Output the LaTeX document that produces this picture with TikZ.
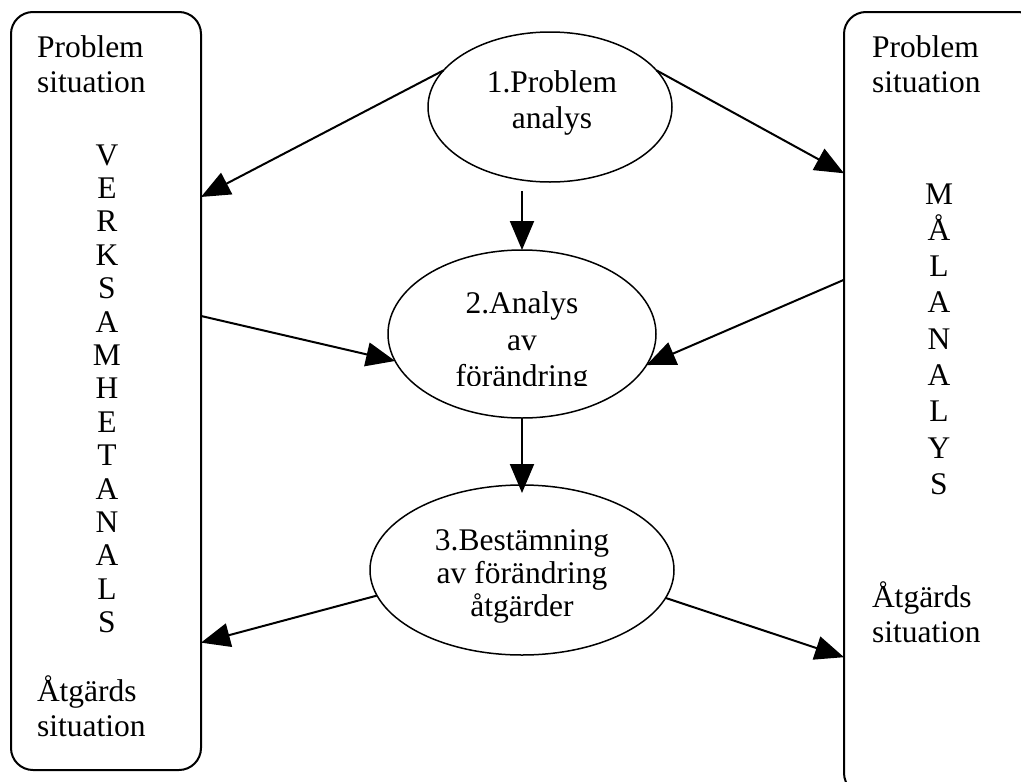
\documentclass[tikz,border=0pt]{standalone}
\usepackage{fontspec}
\setmainfont{Liberation Serif}
\usetikzlibrary{shapes.geometric,arrows.meta,calc}

\begin{document}
\begin{tikzpicture}[x=1pt,y=-1pt,
  every node/.style={font=\fontsize{31.5}{36}\selectfont, inner sep=0pt, outer sep=0pt},
  frame/.style={draw, line width=2pt, rounded corners=22pt, rectangle},
  stage/.style={draw, ellipse, line width=1.5pt},
  txt/.style={anchor=base west},
  ctxt/.style={anchor=base},
  flow/.style={line width=2pt, -{Triangle[length=29pt,width=24pt]}}
]
\useasboundingbox (0,0) rectangle (1021,782);

% side frames
\node[frame, minimum width=190pt, minimum height=758pt] (lbox) at (106,391) {};
\node[frame, minimum width=196pt, minimum height=783pt] (rbox) at (942,403.5) {};

% process stages
\node[stage, minimum width=244pt, minimum height=150pt] (e1) at (550,107) {};
\node[stage, minimum width=268pt, minimum height=168pt] (e2) at (522,334) {};
\node[stage, minimum width=304pt, minimum height=170pt] (e3) at (522,570) {};

% left frame texts
\node[txt] (lp1) at (37,57) {Problem};
\node[txt] (lp2) at (37,92) {situation};
\foreach \c [count=\i from 0] in {V,E,R,K,S,A,M,H,E,T,A,N,A,L,S}
  \node[ctxt] (vl\i) at (107,{165+33.4*\i}) {\c};
\node[txt] (la1) at (37,701) {Åtgärds};
\node[txt] (la2) at (37,736) {situation};

% right frame texts
\node[txt] (rp1) at (872,57) {Problem};
\node[txt] (rp2) at (872,92) {situation};
\foreach \c [count=\i from 0] in {M,Å,L,A,N,A,L,Y,S}
  \node[ctxt] (vr\i) at (939,{204+36.3*\i}) {\c};
\node[txt] (ra1) at (872,607) {Åtgärds};
\node[txt] (ra2) at (872,642) {situation};

% stage texts
\node[ctxt] (t11) at (552,92) {1.Problem};
\node[ctxt] (t12) at (552,128) {analys};
\begin{scope}
  \clip (380,250) rectangle (660,385);
  \node[ctxt] (t21) at (522,313) {2.Analys};
  \node[ctxt] (t22) at (522,350) {av};
  \node[ctxt] (t23) at (522,386) {förändring};
\end{scope}
\node[ctxt] (t31) at (522,550) {3.Bestämning};
\node[ctxt] (t32) at (522,583) {av förändring};
\node[ctxt] (t33) at (522,616) {åtgärder};

% connectors
\draw[flow] (e1.161) -- ($(lbox.north east)!0.244!(lbox.south east)$);
\draw[flow] (e1.19) -- ($(rbox.north west)!0.206!(rbox.south west)$);
\draw[flow] (e2.north |- e1.south) ++(0,9) -- (e2.north);
\draw[flow] ($(lbox.north east)!0.401!(lbox.south east)$) -- (e2.192);
\draw[flow] ($(rbox.north west)!0.342!(rbox.south west)$) -- (e2.-14);
\draw[flow, shorten >=-8pt] (e2.south) -- (e3.north);
\draw[flow] (e3.190) -- ($(lbox.north east)!0.832!(lbox.south east)$);
\draw[flow] (e3.-11) -- ($(rbox.north west)!0.824!(rbox.south west)$);
\end{tikzpicture}
\end{document}
